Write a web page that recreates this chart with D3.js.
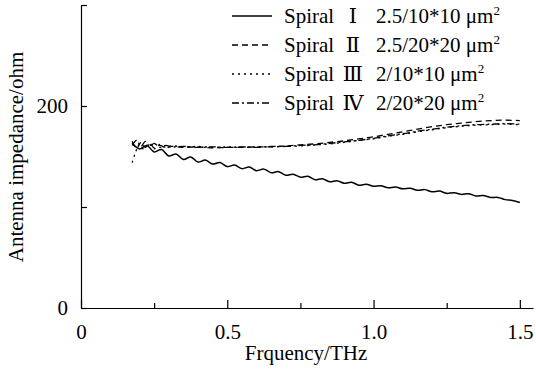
<!DOCTYPE html>
<html>
<head>
<meta charset="utf-8">
<script src="https://cdn.jsdelivr.net/npm/d3@7"></script>
<style>
  body { margin: 0; background: #fff; }
  svg { display: block; }
  text { font-family: "Liberation Serif", "DejaVu Serif", serif; fill: #000; }
</style>
</head>
<body>
<div id="chart"></div>
<script>
var vWidth = 536;
var vHeight = 371;

// Data (frequency in THz, impedance in ohm)
var freqI = [0.175, 0.2, 0.225, 0.25, 0.275, 0.3, 0.325, 0.35, 0.375, 0.4, 0.425, 0.45, 0.475, 0.5,
    0.525, 0.55, 0.575, 0.6, 0.625, 0.65, 0.675, 0.7, 0.725, 0.75, 0.775, 0.8, 0.825, 0.85, 0.875, 0.9,
    0.925, 0.95, 0.975, 1.0, 1.025, 1.05, 1.075, 1.1, 1.125, 1.15, 1.175, 1.2, 1.225, 1.25, 1.275, 1.3,
    1.325, 1.35, 1.375, 1.4, 1.425, 1.45, 1.475, 1.5];
var spiralI = [163, 157.5, 161, 154.5, 157, 150.5, 152.5, 147, 149.5, 144.5, 146.5, 142.5, 144, 140,
    141.5, 138, 139.5, 136, 137.5, 134, 135, 131.5, 132.5, 129.5, 130.5, 127, 128, 125, 126, 123.5,
    124.5, 121.5, 122.5, 120.5, 121, 119, 119.8, 118, 118.5, 116.5, 117.2, 115, 115.8, 113.5, 114.2, 112.5,
    113, 111, 111.3, 109.5, 109.5, 107.3, 106.5, 104.5];

var freqII = [0.175, 0.19, 0.205, 0.22, 0.235, 0.25, 0.27, 0.29, 0.31, 0.35, 0.4, 0.45, 0.5, 0.55, 0.6,
    0.65, 0.7, 0.75, 0.8, 0.85, 0.9, 0.95, 1.0, 1.05, 1.1, 1.15, 1.2, 1.25, 1.3, 1.35, 1.4, 1.45, 1.5];
var spiralII = [165, 158, 164, 159, 163, 158.5, 161, 158.5, 160, 159, 159.5, 158.5, 159, 159, 159.5,
    159.5, 160.5, 161.5, 162.5, 164, 165.5, 167.5, 169.5, 172, 174.5, 177, 179.5, 181.5, 183, 184.5, 185.5, 186, 185.5];

var freqIII = [0.175, 0.185, 0.2, 0.215, 0.23, 0.25, 0.27, 0.29, 0.31, 0.35, 0.4, 0.45, 0.5, 0.55, 0.6,
    0.65, 0.7, 0.75, 0.8, 0.85, 0.9, 0.95, 1.0, 1.05, 1.1, 1.15, 1.2, 1.25, 1.3, 1.35, 1.4, 1.45, 1.5];
var spiralIII = [144, 153, 162, 157, 163, 157.5, 162, 159, 160.5, 159.5, 160, 159, 159.5, 159, 159.5,
    159.5, 160, 160.5, 161.5, 162.5, 164, 166, 167.5, 170, 172, 174.5, 176.5, 178.5, 180, 181, 181.5, 182, 181.5];

var freqIV = [0.175, 0.19, 0.205, 0.22, 0.235, 0.25, 0.27, 0.29, 0.31, 0.35, 0.4, 0.45, 0.5, 0.55, 0.6,
    0.65, 0.7, 0.75, 0.8, 0.85, 0.9, 0.95, 1.0, 1.05, 1.1, 1.15, 1.2, 1.25, 1.3, 1.35, 1.4, 1.45, 1.5];
var spiralIV = [161, 166, 160, 165, 160, 163, 159, 161, 159.5, 160, 159, 159.5, 159, 159.5, 159,
    160, 160, 161, 161.5, 163, 164.5, 166, 168, 170.5, 172.5, 175, 177, 179, 180.5, 181.5, 182, 182.5, 182];

var seriesNames = ['Spiral', 'Spiral', 'Spiral', 'Spiral'];
var seriesNumerals = ['\u2160', '\u2161', '\u2162', '\u2163'];
var seriesParams = ['2.5/10*10 \u03bcm', '2.5/20*20 \u03bcm', '2/10*10 \u03bcm', '2/20*20 \u03bcm'];
var seriesDash = [null, '6,4', '2,4', '7,3,2,3'];

var xMajor = [0, 0.5, 1.0, 1.5];
var xMinor = [0.25, 0.75, 1.25];
var yTicks = [0, 100, 200, 300];
var yLabels = ['0', '', '200', ''];

var svg = d3.select('#chart')
    .append('svg')
        .attr('width', vWidth)
        .attr('height', vHeight);

var x = d3.scaleLinear().domain([0, 1.545]).range([81, 533]);
var y = d3.scaleLinear().domain([0, 300]).range([308, 5]);

// x axis
var gx = svg.append('g')
    .attr('transform', 'translate(0,308)')
    .call(d3.axisBottom(x)
        .tickValues(xMajor)
        .tickSize(-8)
        .tickSizeOuter(0)
        .tickPadding(16)
        .tickFormat(function (d) { return d === 0 ? '0' : d3.format('.1f')(d); }));
gx.selectAll('.tick text').style('font-size', '21px');

svg.append('g')
    .attr('transform', 'translate(0,308)')
    .call(d3.axisBottom(x).tickValues(xMinor).tickSize(-5).tickSizeOuter(0).tickFormat(''))
    .select('.domain').remove();

// y axis
var gy = svg.append('g')
    .attr('transform', 'translate(81,0)')
    .call(d3.axisLeft(y)
        .tickValues(yTicks)
        .tickSize(-6)
        .tickSizeOuter(0)
        .tickPadding(13)
        .tickFormat(function (d, i) { return yLabels[i]; }));
gy.selectAll('.tick text').style('font-size', '21px');

svg.selectAll('.domain, .tick line').attr('stroke', '#000').attr('stroke-width', 1.2);

// axis titles
svg.append('text')
    .attr('x', 306)
    .attr('y', 360)
    .attr('text-anchor', 'middle')
    .style('font-size', '21px')
    .text('Frquency/THz');

svg.append('text')
    .attr('transform', 'translate(23,157) rotate(-90)')
    .attr('text-anchor', 'middle')
    .style('font-size', '21px')
    .text('Antenna impedance/ohm');

// curves
var line = d3.line()
    .x(function (d) { return x(d[0]); })
    .y(function (d) { return y(d[1]); })
    .curve(d3.curveCatmullRom);

var curves = [d3.zip(freqI, spiralI), d3.zip(freqII, spiralII), d3.zip(freqIII, spiralIII), d3.zip(freqIV, spiralIV)];

svg.selectAll('path.curve')
    .data(curves)
    .enter().append('path')
        .attr('class', 'curve')
        .attr('d', line)
        .attr('fill', 'none')
        .attr('stroke', '#000')
        .attr('stroke-width', function (d, i) { return i === 0 ? 1.5 : 1.3; })
        .attr('stroke-dasharray', function (d, i) { return seriesDash[i]; });

// legend
var legend = svg.selectAll('g.legend')
    .data(seriesNames)
    .enter().append('g')
        .attr('class', 'legend')
        .attr('transform', function (d, i) { return 'translate(0,' + (16 + i * 29) + ')'; });

legend.append('line')
    .attr('x1', 232).attr('x2', 272)
    .attr('stroke', '#000')
    .attr('stroke-width', 1.3)
    .attr('stroke-dasharray', function (d, i) { return seriesDash[i]; });

var lt = legend.append('text')
    .attr('y', 7)
    .style('font-size', '21px');
lt.append('tspan').attr('x', 284).text(function (d) { return d; });
lt.append('tspan').attr('x', 353).attr('text-anchor', 'middle').text(function (d, i) { return seriesNumerals[i]; });
lt.append('tspan').attr('x', 376).text(function (d, i) { return seriesParams[i]; });
lt.append('tspan').attr('dy', -8).style('font-size', '13px').text('2');
</script>
</body>
</html>
